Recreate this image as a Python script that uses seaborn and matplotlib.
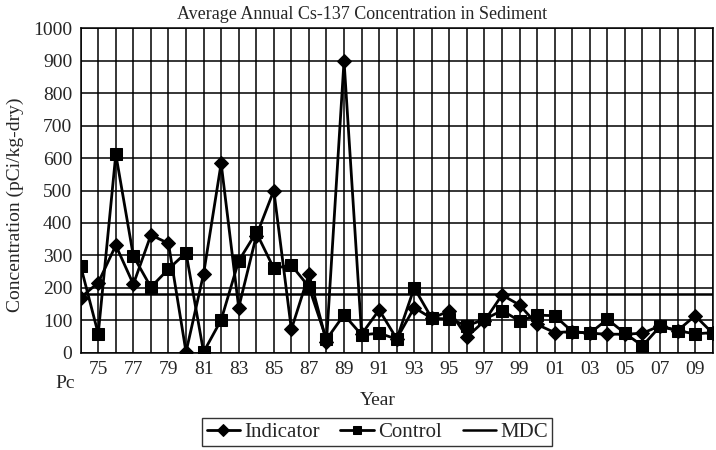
import numpy as np
import pandas as pd
import matplotlib
matplotlib.use("Agg")
import matplotlib.pyplot as plt
import matplotlib.transforms as mtransforms
import seaborn as sns

years = ["Pc"] + [str(y) for y in range(75, 100)] + ["%02d" % y for y in range(0, 11)]

indicator = [170, 216, 331, 211, 363, 337, 2, 243, 584, 139, 360, 500, 72,
             242, 34, 900, 57, 132, 43, 139, 106, 129, 49, 98, 178, 147,
             87, 62, 65, 60, 57, 57, 60, 83, 68, 114, 60]
control = [267, 58, 612, 298, 202, 258, 308, 2, 101, 283, 371, 260, 270,
           203, 41, 117, 55, 60, 42, 200, 106, 104, 83, 103, 130, 98,
           116, 114, 65, 60, 103, 60, 21, 81, 68, 58, 62]
mdc = [180] * len(years)

df = pd.DataFrame({"pos": np.arange(len(years)), "Indicator": indicator,
                   "Control": control, "MDC": mdc})

sns.set_style("white")
plt.rcParams["font.family"] = ["Liberation Serif", "DejaVu Serif"]

fig = plt.figure(figsize=(7.16, 4.5), dpi=100)
ax = fig.add_axes([0.1127, 0.2162, 0.9954 - 0.1127, 0.937 - 0.2162])

sns.lineplot(data=df, x="pos", y="Indicator", ax=ax, color="black", lw=2,
             marker="D", markersize=7.5, markeredgecolor="black", label="Indicator")
sns.lineplot(data=df, x="pos", y="Control", ax=ax, color="black", lw=2,
             marker="s", markersize=8, markeredgecolor="black", label="Control")
sns.lineplot(data=df, x="pos", y="MDC", ax=ax, color="black", lw=1.8, label="MDC")

ax.set_xlim(0, len(years) - 1)
ax.set_ylim(0, 1000)
ax.set_yticks(range(0, 1001, 100))
ax.set_xticks(np.arange(len(years)))
ax.set_xticklabels([y if (i % 2 == 1) else "" for i, y in enumerate(years)])
ax.grid(True, color="black", lw=1.1)
ax.tick_params(length=0, labelsize=14, pad=6)
for s in ax.spines.values():
    s.set_color("black")
    s.set_linewidth(1.1)

trans = mtransforms.blended_transform_factory(ax.transData, ax.transAxes)
ax.text(-0.9, -0.07, "Pc", transform=trans, ha="center", va="top", fontsize=14)

fig.text(0.505, 0.968, "Average Annual Cs-137 Concentration in Sediment",
         ha="center", va="center", fontsize=13)
ax.set_xlabel("Year", fontsize=14)
ax.xaxis.set_label_coords(0.47, -0.12)
ax.set_ylabel("Concentration (pCi/kg-dry)", fontsize=14)
ax.yaxis.set_label_coords(-0.09, 0.455)

leg = ax.legend(loc="upper center", bbox_to_anchor=(0.469, -0.17), ncol=3,
                frameon=True, fontsize=15, fancybox=False, borderpad=0.2,
                handlelength=1.6, columnspacing=1.0, handletextpad=0.2,
                markerscale=0.75)
leg.get_frame().set_edgecolor("black")
leg.get_frame().set_linewidth(1.0)

fig.savefig("out.png", dpi=100)
